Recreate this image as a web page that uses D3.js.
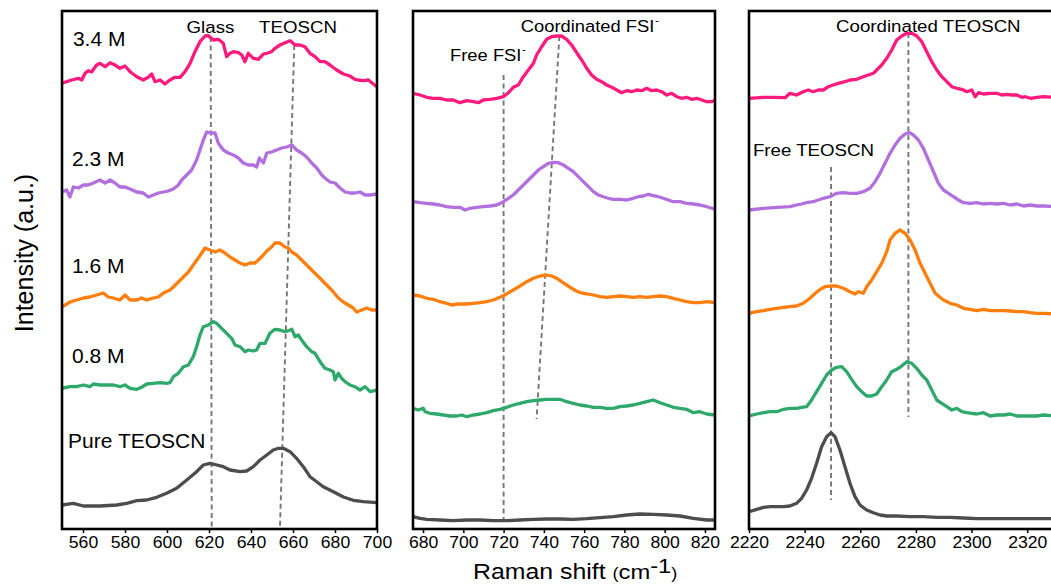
<!DOCTYPE html>
<html><head><meta charset="utf-8">
<script src="https://cdn.jsdelivr.net/npm/d3@7"></script>
<style>body{margin:0;background:#fff}svg{display:block;font-family:"Liberation Sans",Arial,sans-serif}</style>
</head><body><svg id="c" width="1051" height="587"></svg>
<script>
// ---------------- data ----------------
const seriesNames = ["3.4 M","2.3 M","1.6 M","0.8 M","Pure TEOSCN"];
const seriesColors = ["#ff1a7d","#b270df","#ff7f0e","#2fa96b","#4d4d4d"];

const p1Ticks = [560,580,600,620,640,660,680,700];
const p2Ticks = [680,700,720,740,760,780,800,820];
const p3Ticks = [2220,2240,2260,2280,2300,2320];

const p1Notes = ["Glass","TEOSCN"];
const p2Notes = ["Free FSI","Coordinated FSI"];
const p3Notes = ["Free TEOSCN","Coordinated TEOSCN"];

// panel 1 (550-700 cm-1)  [shift, intensity]
const p1_34 = [[550,445.7],[554.6,449],[557.8,450.7],[559.4,449],[561,455.7],[562.5,458.3],[564.1,457],[566.5,464],[568.1,465.7],[570.5,462.3],[572.9,466.3],[575.2,464],[577.6,460.7],[580,463],[582.4,457.3],[585.6,452.3],[588.7,449],[591.1,451.7],[592.7,455],[594.3,447.3],[596.7,449],[599,445],[601.4,449],[603.8,451.7],[606.2,451.7],[608.6,457.3],[611,465.7],[613.3,477.3],[615.7,487.3],[618.1,493],[619.7,493.3],[622.1,489],[624.4,489.7],[626.8,485.7],[628.4,472.3],[630,475.7],[631.6,477.3],[634,476.3],[635.6,474],[637.1,467.3],[638.7,475.7],[641.1,470.7],[643.5,469.7],[645.9,475],[647.5,475.7],[649.8,477.3],[651.4,480.7],[653.8,484],[656.2,486.3],[658.6,488.3],[661,484],[663.3,484],[665.7,482.3],[668.1,475.7],[670.5,472.3],[672.9,467.3],[675.2,467.3],[677.6,464],[680.8,459],[684,455],[687.1,453],[689.5,449.7],[691.1,449],[693.5,448.3],[695.9,449],[697.5,446.3],[700,442.3]];
const p1_23 = [[550,337],[552.2,339],[553.8,332],[555.4,342],[557.8,341],[560.2,344],[562.5,344],[564.9,346],[568.1,349],[570.5,346],[572.9,349],[575.2,346],[577.6,342],[580,342],[582.4,340],[585.6,337],[588.7,336],[591.1,332],[593.5,334],[595.9,336],[598.3,337],[600.6,338],[603,340],[605.4,344],[607,349],[609.4,354],[611.7,359],[614.1,369],[615.7,379],[617.3,389],[618.9,397],[620.8,396],[622.9,396],[624.4,386],[626.8,379],[629.2,376],[631.6,374],[634,371],[636.3,366],[638.7,364],[641.1,364],[642.7,362],[644,371],[645.9,366],[647.5,376],[649.8,377],[652.2,379],[654.6,381],[657,382],[659.4,384],[661.7,379],[664.1,376],[666.5,372],[668.9,366],[671.3,361],[673.7,354],[675.2,351],[677.6,347],[680,346],[682.4,341],[684.8,337],[687.1,336],[689.5,336],[691.9,337],[694.3,334],[696.7,334],[700,335]];
const p1_16 = [[550,222],[553.8,227],[557,229],[560.2,231],[563.3,232],[566.5,234],[569.7,236],[572,232],[574.4,231],[577.6,229],[580,234],[582.4,229],[585.6,229],[587.9,231],[590.3,229],[593.5,231],[595.9,232],[598.3,236],[601.4,239],[603,242],[605.4,247],[607.8,252],[610.2,257],[612.5,264],[614.9,271],[616.5,276],[618.1,281],[620.5,279],[622.9,277],[625.2,279],[627.6,276],[630,272],[632.4,269],[634.8,266],[637.1,264],[639.5,266],[641.9,266],[643.5,269],[645.9,274],[647.5,278],[649.8,282],[651.4,286],[653.8,286],[656.2,282],[657.8,281],[659.4,277],[661.7,274],[664.1,269],[666.5,264],[668.9,259],[671.3,254],[673.7,249],[676,244],[678.4,239],[681.6,231],[684,227],[686.3,224],[688.7,221],[690.3,217],[692.7,219],[695.1,221],[697.5,219],[700,219]];
const p1_08 = [[550,140.7],[553.8,142.3],[557,142.3],[560.2,144],[563.3,142.3],[564.9,145],[568.1,144],[571.3,144],[574.4,144],[577.6,142.3],[580,144],[582.4,140.7],[585.6,139.7],[587.9,141.7],[590.3,145],[593.5,145.7],[596.7,146.3],[599.8,145.7],[601.4,146.3],[603,152.3],[605.4,155.7],[607.8,162.3],[610.2,164],[612.5,172.3],[614.1,182.3],[615.7,194],[617.3,202.3],[619.7,204],[622.1,207.3],[623.7,205.7],[626,200.7],[628.4,195.7],[630.8,190.7],[632.4,184],[634.8,182.3],[637.1,177.3],[638.7,179],[641.1,178],[642.7,179],[644.3,185.7],[646.7,185.7],[649,195.7],[651.4,199.7],[653.8,199],[656.2,197.3],[657.8,198.3],[659.4,199.7],[661,192.3],[662.5,194],[664.1,189],[666.5,182.3],[668.9,177.3],[670.5,175.7],[672.9,167.3],[675.2,160.7],[677.6,159],[679.2,157.3],[680,149],[681.6,155.7],[683.2,150.7],[684.8,147.3],[687.1,144],[689.5,142.3],[691.9,139],[694.3,142.3],[696.7,137.3],[700,139]];
const p1_pure = [[550,24],[555.4,25.7],[560.2,23],[568.1,23],[576,24],[580.8,25.7],[585.6,28.3],[590.3,29],[595.1,31.7],[599.8,35.7],[604.6,40.7],[609.4,49],[614.1,57.3],[617.3,64],[620.5,65.7],[623.7,64],[626.8,62.3],[630,59],[634.8,57.3],[637.9,58],[641.1,62.3],[644.3,69],[647.5,74],[650.6,79],[653,80.7],[655.4,80.7],[658.6,77.3],[661.7,70.7],[664.9,62.3],[668.1,52.3],[671.3,47.3],[674.4,42.3],[679.2,37.3],[684,32],[688.7,28.7],[693.5,27.3],[700,26.3]];
const p1Guides = [[[620.8,492],[621.3,2]],[[660.6,484],[653.8,2]]];

// panel 2 (675-825 cm-1)
const p2_34 = [[675,435.7],[678.5,434],[681.8,431.7],[685.1,430.7],[688.4,430.7],[691.7,429],[695,429],[698.3,426.3],[701.7,428.3],[705,427.3],[707.5,426.3],[709.9,429],[713.2,429.7],[716.6,430.7],[719.9,432.3],[722.4,436.3],[724.8,441.7],[727.3,444],[729.8,452.3],[732.3,459],[734.8,465.7],[736.4,474],[738.9,482.3],[741.4,489.7],[743.9,492.3],[746.4,493],[748.8,493],[751.3,489.7],[753.8,484],[756.3,476.3],[758.8,469],[761.3,460.7],[763.7,454],[766.2,449.7],[768.7,447.3],[771.2,444],[773.7,441.7],[776.2,439],[778.6,436.3],[781.1,438.3],[783.6,437.3],[786.1,439],[788.6,438.3],[791.1,440.7],[793.5,438.3],[796,439],[798.5,437.3],[801,434],[803.5,435.7],[806,432.3],[808.4,430.7],[810.9,431.7],[813.4,429.7],[815.9,430.7],[818.4,429],[820.9,427.3],[823.3,427.3],[825,428.3]];
const p2_23 = [[675,327.3],[678.5,326.3],[681.8,325.7],[685.1,325],[688.4,324],[691.7,322.3],[695,321.7],[698.3,321.7],[700.8,319],[703.3,320.7],[706.6,321.7],[709.9,322.3],[713.2,323],[716.6,324],[719.9,327.3],[722.4,330.7],[724.8,334],[727.3,339],[729.8,344],[732.3,349],[734.8,354],[737.3,359],[739.7,362.3],[742.2,365.7],[744.7,366.7],[747.2,366.3],[749.7,364],[752.2,360.7],[754.6,357.3],[757.1,352.3],[759.6,347.3],[762.1,342.3],[764.6,337.3],[767.1,334],[769.5,332.3],[772,330.7],[774.5,329.7],[777.8,329.7],[781.1,329],[784.4,330.7],[786.9,332.3],[789.4,333],[791.9,334.7],[794.4,333.3],[796.9,332.3],[799.3,330.7],[801.8,329],[804.3,327.3],[807.6,327.3],[810.9,325.7],[814.2,325],[817.5,324],[820.9,322.3],[825,319.7]];
const p2_16 = [[675,234],[678.5,233],[681.8,230.7],[685.1,229.7],[688.4,227.3],[691.7,225.7],[694.2,224],[697.5,225],[701.7,225],[705,225.7],[708.3,226.3],[711.6,227.3],[714.9,229],[718.2,231.7],[720.5,234],[724.8,239],[728.1,243],[731.5,247.3],[734.8,250.7],[738.1,253],[741.4,254],[743.9,253],[746.4,250.7],[748.8,247.3],[751.3,244],[753.8,240.7],[756.3,237.8],[758.8,236],[761.3,235.2],[764.6,234],[767.9,232.3],[771.2,231.7],[774.5,232.3],[777.8,233],[781.1,232.3],[784.4,231.7],[787.7,232.3],[791.1,231.7],[794.4,232.3],[797.7,233],[801,232.3],[804.3,230.7],[807.6,229],[810.9,227.3],[814.2,226.3],[817.5,226.3],[820.9,227.3],[825,226.3]];
const p2_08 = [[675,120.7],[677.6,119],[680.1,120.7],[681,117.3],[683.4,115.7],[686.8,115],[690.1,114],[693.4,113],[696.7,113],[699.2,114],[701.7,112.3],[705,114],[708.3,115],[711.6,116.3],[714.9,118.3],[718.2,119.7],[721.5,121.7],[724.8,124],[728.1,125.7],[731.5,127.3],[734.8,128.3],[738.1,129],[741.4,129.7],[744.7,129.7],[748,129.7],[751.3,127.3],[754.6,125.7],[757.9,124],[761.3,123],[764.6,121.7],[767.9,121.7],[771.2,120.7],[774.5,120.7],[777.8,122.3],[781.1,123],[784.4,124],[787.7,125.7],[791.1,127.3],[794.4,129],[797.7,126.3],[801,124],[804.3,121.7],[807.6,120.7],[810.9,119.7],[814.2,116.3],[817.5,117.3],[820.9,115],[825,114]];
const p2_pure = [[675,12.3],[678.5,10.7],[681.8,9.7],[688.4,9],[695,8.3],[701.7,9],[708.3,9],[714.9,8.3],[721.5,8.3],[728.1,9],[734.8,9.7],[741.4,10],[748,10],[754.6,9.7],[761.3,10.3],[767.9,11.3],[774.5,12.3],[781.1,14],[787.7,15],[794.4,14.7],[801,14],[807.6,13],[814.2,10.7],[820.9,9],[825,9]];
const p2Guides = [[[720,454],[720,4]],[[747.7,493],[736.4,110]]];

// panel 3 (2220-2330 cm-1)
const p3_34 = [[2220,430.7],[2225.2,431.7],[2228.8,431.7],[2233,431.3],[2234.7,435.7],[2237.1,434],[2239.5,437.3],[2241.3,439],[2243.1,437.3],[2244.9,439],[2246.7,439],[2248.5,442.3],[2250.3,444],[2252.1,445.7],[2254.5,447.3],[2256.3,449],[2258.7,449.7],[2261.1,452.3],[2262.9,454],[2264.7,455.7],[2265.9,459],[2267.7,464],[2269.5,470.7],[2271.3,479],[2273.1,489],[2274.9,493],[2276.7,495.7],[2278.5,495.7],[2280.3,493],[2282.1,487.3],[2283.9,477.3],[2285.7,467.3],[2287.5,459],[2289.3,452.3],[2291.1,447.3],[2292.9,442.3],[2294.7,440.7],[2296.5,439.7],[2298.3,437.3],[2300.1,439],[2301.3,432.3],[2302.5,436.3],[2304.3,435],[2306.7,435.7],[2309.1,435.7],[2310.9,434],[2312.7,434.7],[2314.5,434],[2316.3,434],[2318.1,431.7],[2319.3,432.3],[2321.1,430.7],[2323.5,431.7],[2325.9,432.3],[2330,431.7]];
const p3_23 = [[2220,319],[2225.2,320.7],[2230,321.7],[2234.7,322.3],[2237.1,324],[2238.9,325],[2240.7,326.3],[2243.1,327.3],[2244.9,329],[2246.7,330.7],[2249.1,332.3],[2251.5,335.7],[2253.9,336.3],[2256.3,335.7],[2258.7,335.7],[2261.1,337.3],[2263.5,340.7],[2265.3,347.3],[2267.1,355.7],[2268.9,365.7],[2270.7,375.7],[2272.5,384],[2274.3,390.7],[2276.1,395],[2277.7,396.3],[2279.1,394],[2280.9,389],[2282.7,380.7],[2284.5,369],[2286.3,357.3],[2288.1,345.7],[2289.9,339],[2291.7,335.7],[2293.5,332.3],[2295.3,329],[2297.1,326.3],[2299.5,325.7],[2301.9,326.3],[2304.3,325],[2306.7,325.7],[2309.1,325],[2311.5,325.7],[2313.9,324],[2316.3,325],[2318.7,323],[2321.1,324],[2323.5,323],[2325.9,323],[2330,322.3]];
const p3_16 = [[2220,215.7],[2222.8,217.3],[2225.2,218.3],[2227.6,219.7],[2230,220.7],[2232.4,221.7],[2234.7,222.3],[2237.1,223],[2239.5,225.7],[2241.9,230.7],[2243.7,235.5],[2245.5,239.5],[2247.3,242.3],[2249.7,243],[2251.5,243],[2253.9,240.7],[2256.3,237.3],[2258.1,235],[2259.3,237.3],[2261.1,235.7],[2262.3,242.3],[2264.1,249],[2265.9,257.3],[2267.7,265.7],[2269.5,277.3],[2270.7,289],[2272.5,295.7],[2274.3,299],[2276.1,295.7],[2277.9,289],[2279.7,279],[2281.5,265.7],[2283.3,255.7],[2285.1,245.7],[2286.9,235.7],[2289.9,229],[2292.3,225.7],[2294.7,224],[2297.1,220.7],[2299.5,219.7],[2301.9,218.3],[2304.3,219.7],[2306.7,218.3],[2309.1,218.3],[2311.5,218.3],[2313.9,218],[2316.3,217.3],[2318.7,217.3],[2321.1,216.3],[2323.5,215.7],[2325.9,215.7],[2330,215]];
const p3_08 = [[2220,113],[2222.8,115],[2225.2,116.3],[2227.6,117.3],[2230,117.3],[2232.4,119.7],[2234.7,120.7],[2237.1,120.7],[2238.9,121.7],[2240.7,122.3],[2242.5,129],[2244.3,137.3],[2246.1,145.7],[2247.9,154],[2249.7,159],[2251.5,161.7],[2253.3,162.3],[2255.1,157.3],[2256.9,149.7],[2258.7,142.3],[2260.5,137.3],[2262.3,133],[2264.1,133],[2265.9,135],[2267.7,142.3],[2269.5,149],[2271.3,157.3],[2273.1,159.7],[2274.9,163],[2276.7,167.3],[2278.5,165.7],[2280.3,160.7],[2282.1,154],[2283.9,149],[2285.7,139],[2287.5,129],[2289.3,125.7],[2291.1,122.3],[2292.9,119],[2294.7,120.7],[2296.5,117.3],[2298.3,116.3],[2300.1,115.7],[2301.9,115],[2304.3,116.3],[2306.7,113],[2309.1,114],[2311.5,114],[2313.9,115],[2316.3,113],[2318.7,113],[2321.1,113],[2323.5,113],[2325.9,114],[2330,113]];
const p3_pure = [[2220,17.3],[2222.8,19.7],[2225.2,21.7],[2227.6,22.3],[2230,22.3],[2232.4,22.3],[2234.7,23],[2237.1,25.7],[2238.9,30.7],[2240.7,39],[2242.5,50.7],[2244.3,65.7],[2246.1,82.3],[2247.9,92.3],[2249.5,96.3],[2250.9,92.3],[2252.7,79],[2254.5,62.3],[2256.3,45.7],[2258.1,32.3],[2259.9,24],[2262.3,19],[2264.7,16.3],[2267.1,14],[2269.5,13],[2273.1,13],[2277.9,12.3],[2282.7,12.3],[2287.5,11.7],[2292.3,11.7],[2297.1,11],[2301.9,10.3],[2306.7,10.3],[2311.5,10.3],[2330,10.3]];
const p3Guides = [[[2249.5,362],[2249.5,29]],[[2277.3,496],[2277.3,112]]];

// ---------------- drawing ----------------
const W = 1051, H = 587;
const FONT = '"Liberation Sans", Arial, sans-serif';
const svg = d3.select("#c");
svg.append("rect").attr("width", W).attr("height", H).attr("fill", "#fff");

const TOP = 11, BOTTOM = 529;
const y = d3.scaleLinear().domain([0, 518]).range([BOTTOM, TOP]);

function addText(g, str, px, py, size, sx, anchor) {
  return g.append("text")
    .attr("transform", `translate(${px},${py}) scale(${sx},1)`)
    .attr("text-anchor", anchor || "start")
    .attr("font-family", FONT)
    .attr("font-size", size)
    .attr("fill", "#000")
    .text(str);
}

const panels = [
  {x0: 62, x1: 377, domain: [550, 700], ticks: p1Ticks, data: [p1_34, p1_23, p1_16, p1_08, p1_pure], guides: p1Guides},
  {x0: 413, x1: 715, domain: [675, 825], ticks: p2Ticks, data: [p2_34, p2_23, p2_16, p2_08, p2_pure], guides: p2Guides},
  {x0: 749, x1: 1055, domain: [2220, 2330], ticks: p3Ticks, data: [p3_34, p3_23, p3_16, p3_08, p3_pure], guides: p3Guides}
];

panels.forEach((p, pi) => {
  const x = d3.scaleLinear().domain(p.domain).range([p.x0, p.x1]);
  p.x = x;
  const g = svg.append("g");
  const cid = "clip" + pi;
  g.append("clipPath").attr("id", cid).append("rect")
    .attr("x", p.x0).attr("y", TOP).attr("width", p.x1 - p.x0).attr("height", BOTTOM - TOP);
  const line = d3.line().x(d => x(d[0])).y(d => y(d[1]));

  // guide dashes
  p.guides.forEach(gd => {
    g.append("path").datum(gd).attr("d", line)
      .attr("fill", "none").attr("stroke", "#767676")
      .attr("stroke-width", 1.9).attr("stroke-dasharray", "5,3.5");
  });

  // spectra
  const cg = g.append("g").attr("clip-path", `url(#${cid})`);
  p.data.forEach((d, i) => {
    cg.append("path").datum(d).attr("d", line)
      .attr("fill", "none").attr("stroke", seriesColors[i])
      .attr("stroke-width", 3.3).attr("stroke-linejoin", "round").attr("stroke-linecap", "round");
  });

  // axis
  const ax = g.append("g").attr("transform", `translate(0,${BOTTOM})`)
    .call(d3.axisBottom(x).tickValues(p.ticks).tickSize(4).tickFormat(d3.format("d")));
  ax.select(".domain").remove();
  ax.selectAll(".tick line").attr("stroke", "#000").attr("stroke-width", 1.5);
  ax.selectAll(".tick text")
    .attr("y", 0).attr("dy", null)
    .attr("transform", "translate(0,19) scale(1.1,1)")
    .attr("font-family", FONT).attr("font-size", 16).attr("fill", "#000");

  // frame
  g.append("rect").attr("x", p.x0).attr("y", TOP)
    .attr("width", p.x1 - p.x0).attr("height", BOTTOM - TOP)
    .attr("fill", "none").attr("stroke", "#000").attr("stroke-width", 2.6);
});

// concentration labels (panel 1)
const X1 = panels[0].x, X2 = panels[1].x, X3 = panels[2].x;
const concPos = [[555.2, 483], [554.8, 363], [554.8, 256], [554.8, 166], [552.9, 81]];
seriesNames.forEach((s, i) => addText(svg, s, X1(concPos[i][0]), y(concPos[i][1]), 20, 1.05));

// peak annotations
addText(svg, p1Notes[0], X1(620.7), y(496), 17, 1.1, "middle");
addText(svg, p1Notes[1], X1(662.4), y(496), 17, 1.1, "middle");

[[p2Notes[0], 693.4, 468], [p2Notes[1], 728.5, 497]].forEach(([t, vx, vy]) => {
  const tx = addText(svg, t, X2(vx), y(vy), 17, 1.08);
  tx.append("tspan").attr("font-size", 11).attr("dy", -8).attr("dx", 0.5).text("-");
});

addText(svg, p3Notes[0], X3(2221.4), y(373), 17, 1.1);
addText(svg, p3Notes[1], X3(2251.3), y(497), 17, 1.1);

// axis titles
const xt = svg.append("text")
  .attr("transform", "translate(473,579) scale(1.13,1)")
  .attr("font-family", FONT).attr("font-size", 22).attr("fill", "#000");
xt.append("tspan").text("Raman shift ");
xt.append("tspan").attr("font-size", 16).text("(");
xt.append("tspan").attr("font-size", 21).text("cm");
xt.append("tspan").attr("font-size", 21).attr("dy", -6).text("-1");
xt.append("tspan").attr("font-size", 16).attr("dy", 6).text(")");

svg.append("text")
  .attr("transform", "translate(33,253) rotate(-90)")
  .attr("text-anchor", "middle")
  .attr("font-family", FONT).attr("font-size", 25).attr("fill", "#000")
  .text("Intensity (a.u.)");
</script></body></html>
